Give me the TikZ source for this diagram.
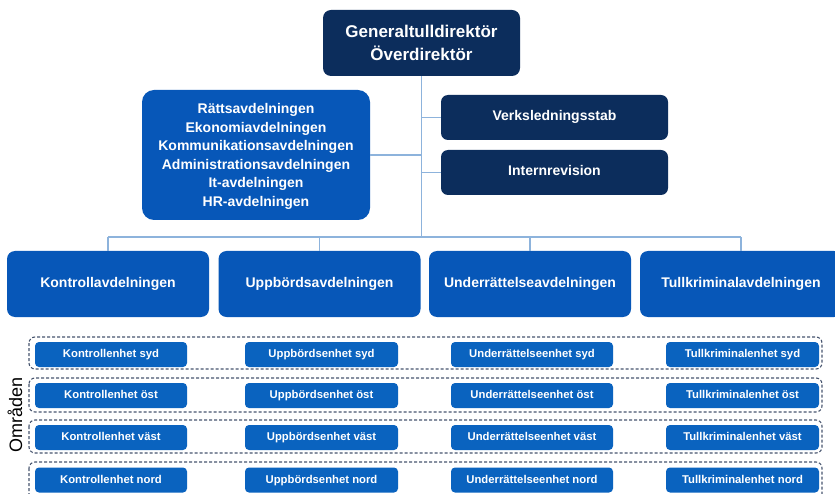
\documentclass[tikz,border=0pt]{standalone}
\usepackage{fontspec}
\setmainfont{Liberation Sans}
\definecolor{navy}{HTML}{0C2D5C}
\definecolor{divblue}{HTML}{0757B8}
\definecolor{unitblue}{HTML}{0A63BF}
\definecolor{connc}{HTML}{8DB3DC}
\definecolor{dashc}{HTML}{48556F}
\begin{document}
\begin{tikzpicture}[x=1pt,y=-1pt,
  box/.style={fill=#1,draw=none,text=white,inner sep=0pt,align=center,font=\bfseries\fontsize{14}{18.6}\selectfont},
  oneline/.style={text height=0.72em,text depth=0.05em},
  topbox/.style={box=navy,rounded corners=8pt,minimum width=197pt,minimum height=66pt,font=\bfseries\fontsize{17}{23}\selectfont},
  staffbox/.style={box=divblue,rounded corners=12pt,minimum width=228pt,minimum height=130pt,text depth=0pt},
  stabbox/.style={box=navy,oneline,rounded corners=7pt,minimum width=227pt,minimum height=45pt},
  divbox/.style={box=divblue,oneline,rounded corners=8pt,minimum width=202pt,minimum height=66pt},
  unitbox/.style={box=unitblue,oneline,rounded corners=4pt,minimum height=25pt,font=\bfseries\fontsize{11.3}{13}\selectfont},
  rowbox/.style={draw=dashc,line width=1.1pt,dash pattern=on 3pt off 2pt,rounded corners=6pt},
  conn/.style={draw=connc,line width=1.2pt}]
\useasboundingbox[fill=white] (0,0) rectangle (835,494);

\node[topbox] (top) at (421.5,43) {Generaltulldirektör\\Överdirektör};
\node[staffbox] (staff) at (256,155) {Rättsavdelningen\\Ekonomiavdelningen\\Kommunikationsavdelningen\\Administrationsavdelningen\\It-avdelningen\\HR-avdelningen};
\node[stabbox] (verks) at (554.5,117.5) {Verksledningsstab};
\node[stabbox] (intern) at (554.5,172.5) {Internrevision};

\node[divbox] (d1) at (108,284) {Kontrollavdelningen};
\node[divbox] (d2) at (319.5,284) {Uppbördsavdelningen};
\node[divbox] (d3) at (530,284) {Underrättelseavdelningen};
\node[divbox] (d4) at (741,284) {Tullkriminalavdelningen};

\coordinate (busL) at (108,237);
\coordinate (busR) at (741,237);
\draw[conn] (top.south) -- (top.south |- busL);
\draw[conn] (busL) -- (busR);
\foreach \n in {d1,d2,d3,d4} \draw[conn] (\n.north) -- (\n.north |- busL);
\draw[conn] (staff.east) -- (staff.east -| top.south);
\draw[conn] (verks.west) -- (verks.west -| top.south);
\draw[conn] (intern.west) -- (intern.west -| top.south);

% region rows
\draw[rowbox] (29,337) rectangle (822,369);
\draw[rowbox] (29,378) rectangle (822,412);
\draw[rowbox] (29,420) rectangle (822,453);
\draw[rowbox] (29,462) rectangle (822,505);

\foreach \y/\r/\s in {354.5/1/syd,395.5/2/öst,437.5/3/väst,480/4/nord}{
  \node[unitbox,minimum width=152pt] (k\r) at (111,\y) {Kontrollenhet \s};
  \node[unitbox,minimum width=153pt] (u\r) at (321.5,\y) {Uppbördsenhet \s};
  \node[unitbox,minimum width=162pt] (r\r) at (532,\y) {Underrättelseenhet \s};
  \node[unitbox,minimum width=153pt] (t\r) at (742.5,\y) {Tullkriminalenhet \s};
}

\node[rotate=90,font=\fontsize{18}{20}\selectfont,inner sep=0pt] (omr) at (15,415) {Områden};
\end{tikzpicture}
\end{document}
